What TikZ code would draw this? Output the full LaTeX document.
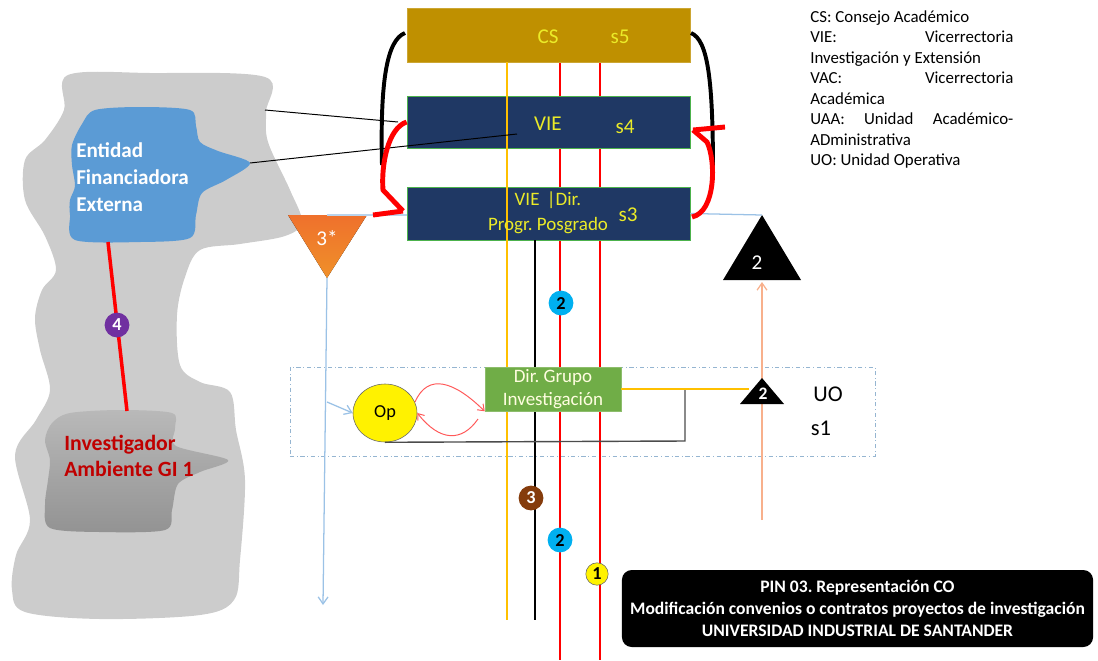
\documentclass[tikz,border=0pt]{standalone}
\usepackage{fontspec}
\setmainfont{Carlito}
\frenchspacing
\usetikzlibrary{shapes.geometric,arrows.meta}
\definecolor{oro}{RGB}{191,144,0}
\definecolor{navy}{RGB}{31,56,100}
\definecolor{amar}{RGB}{235,235,40}
\definecolor{ambar}{RGB}{255,192,0}
\definecolor{verde}{RGB}{112,173,71}
\definecolor{azulef}{RGB}{91,155,213}
\definecolor{celeste}{RGB}{0,176,240}
\definecolor{cafe}{RGB}{133,60,12}
\definecolor{morado}{RGB}{112,48,160}
\definecolor{naranja}{RGB}{237,125,49}
\definecolor{azulcl}{RGB}{155,194,230}
\definecolor{salmon}{RGB}{248,176,140}
\definecolor{rojo}{RGB}{255,0,0}
\definecolor{rojoi}{RGB}{192,0,0}
\definecolor{grisf}{RGB}{204,204,204}
\tikzset{
  nivel/.style={draw=green!40!gray, line width=0.5pt, fill=navy, minimum width=7.075cm, inner sep=0pt},
  rotulo/.style={text=amar, font=\fontsize{15}{17}\selectfont},
  ficha/.style={circle, minimum size=0.62cm, inner sep=0pt, font=\bfseries\fontsize{13}{14}\selectfont},
  via/.style={line width=2pt},
}
\begin{document}
\begin{tikzpicture}[x=0.025cm,y=-0.025cm]
\useasboundingbox (0,0) rectangle (1098,660);
% ambiente externo y entidad
\fill[grisf] plot[smooth cycle, tension=0.55] coordinates {(68,75) (150,73) (265,77) (266,112) (268,142) (290,190) (302,222) (285,236) (240,244) (200,250) (185,277) (177,315) (180,365) (200,382) (230,392) (236,430) (245,480) (240,560) (234,600) (200,615) (100,619) (25,612) (12,590) (16,555) (30,520) (15,455) (36,420) (50,390) (40,350) (35,318) (42,290) (56,270) (45,236) (25,200) (25,160) (45,140) (64,110)};
\fill[azulef] plot[smooth cycle, tension=0.5] coordinates {(95,110) (140,107) (190,110) (196,126) (200,142) (218,151) (250,163) (226,180) (202,193) (196,215) (190,238) (140,242) (75,240) (70,215) (70,200) (75,186) (72,165) (72,145) (82,124)};
\shade[top color=gray!55, bottom color=gray!85] plot[smooth cycle, tension=0.5] coordinates {(70,413) (120,410) (172,413) (175,428) (176,446) (228,460) (200,472) (178,484) (172,510) (165,530) (100,532) (50,528) (45,505) (48,480) (50,460) (45,440) (52,423)};
\coordinate (efb) at (108,242);
\coordinate (igt) at (127,411);
\coordinate (efd) at (250,163);
\coordinate (gr1) at (265,110);
\draw[rojo, line width=2.5pt] (efb) -- (igt);
\node[anchor=west, align=left, text=white, font=\bfseries\fontsize{15}{19.2}\selectfont, inner sep=0pt] (efe) at (76,177) {Entidad\\Financiadora\\Externa};
\node[anchor=west, align=left, text=rojoi, font=\bfseries\fontsize{15.5}{18.5}\selectfont, inner sep=0pt] (inv) at (64,456) {Investigador\\Ambiente GI 1};
\node[ficha, fill=morado, text=white] (n4) at (117,325) {4};

% franja UO
\node[draw=azulcl!80!gray, dash dot, line width=0.6pt, minimum width=14.625cm, minimum height=2.225cm] (uo) at (582.5,411.5) {};

% niveles
\coordinate (ya) at (507,62);  \coordinate (yb) at (507,620);
\coordinate (ra) at (560,62);  \coordinate (rb) at (560,660);
\coordinate (sa) at (600,62);  \coordinate (sb) at (600,660);
\coordinate (ka) at (535,240); \coordinate (kb) at (535,620);
\draw[rojo, via] (ra) -- (rb);
\draw[rojo, via] (sa) -- (sb);
\draw[black, line width=0.7pt] (gr1) -- (398,122);
\node[nivel, fill=oro, draw=oro!80!white, minimum height=1.35cm] (cs) at (548.5,35) {};
\node[nivel, minimum height=1.3cm] (vie) at (548.5,122) {};
\node[nivel, minimum height=1.325cm] (vied) at (548.5,213.5) {};
\draw[ambar, via] (ya) -- (yb);
\draw[black, line width=1.6pt] (ka) -- (kb);
\coordinate (viep) at (517,134);
\draw[black, line width=0.7pt] (efd) -- (viep);
\node[rotulo] (csl) at (548,37) {CS};
\node[rotulo] (s5) at (620,37) {s5};
\node[rotulo] (viel) at (548,124) {VIE};
\node[rotulo] (s4) at (625,127) {s4};
\node[rotulo, align=center, font=\fontsize{13.5}{17.8}\selectfont] (viedl) at (548,213) {VIE \,|Dir.\\Progr. Posgrado};
\node[rotulo] (s3) at (628,215) {s3};

% triangulos
\fill[top color=naranja!90!red, bottom color=naranja!85!yellow] (288,215) -- (367,215) -- (327,278) -- cycle;
\coordinate (t3) at (327,278);
\coordinate (t3a) at (327,215);
\draw[azulcl!70, line width=0.9pt] (t3a) -- (vied.west |- t3a);
\node[text=white, font=\fontsize{15}{17}\selectfont] (t3l) at (327,238) {3*};
\fill[black] (762,215) -- (801,280) -- (723,280) -- cycle;
\coordinate (t2) at (762,215);
\coordinate (t2b) at (762,282);
\node[text=white, font=\fontsize{15}{17}\selectfont] (t2l) at (757,263) {2};
\coordinate (fin3) at (323,605);
\coordinate (rama) at (327,402);
\coordinate (sal) at (762,520);
\draw[azulcl, line width=0.9pt] (vied.east) -- (t2);
\draw[azulcl, line width=0.9pt, -{Straight Barb[length=5pt,width=7pt]}] (t3) -- (fin3);
\draw[salmon, line width=0.9pt, -{Straight Barb[length=5pt,width=7pt]}] (sal) -- (t2b);

% llaves entre niveles
\draw[black, line width=2.8pt] (405,33) .. controls (387,40) and (380,80) .. (382,165);
\draw[black, line width=2.8pt] (691,33) .. controls (708,40) and (713,80) .. (713,173);
\draw[rojo, line width=3.5pt, line join=miter] (vie.west) .. controls (388,128) and (381,165) .. (383,190) -- (403,211);
\draw[rojo, line width=3.5pt] (373,215) -- (403,211);
\draw[rojo, line width=3.5pt, line join=miter] (692,217) .. controls (716,212) and (716,160) .. (707,142) -- (693,130);
\draw[rojo, line width=3.5pt] (693,130) -- (725,127);

% unidad operativa
\node[draw=gray!80!black, fill=yellow, ellipse, minimum width=1.6cm, minimum height=1.45cm, inner sep=0pt, font=\fontsize{13}{15}\selectfont] (op) at (385,413) {Op};
\draw[azulcl, line width=0.9pt, -{Straight Barb[length=5pt,width=7pt]}] (rama) -- (op.west);
\node[fill=verde, draw=verde!80!white, minimum width=3.4cm, minimum height=1.1cm, align=center, text=white!88!yellow, font=\fontsize{13.5}{16.5}\selectfont, inner sep=0pt] (grupo) at (553,389) {Dir. Grupo\\Investigación};
\coordinate (vuelta) at (478,419);
\coordinate (esq) at (685,441);
\coordinate (une) at (685,389);
\coordinate (t1) at (749,389);
\draw[rojo!65, line width=0.7pt, -{Straight Barb[length=4pt,width=6pt]}] (op.20) .. controls (428,372) and (455,382) .. (grupo.south west);
\draw[rojo!65, line width=0.7pt, -{Straight Barb[length=4pt,width=6pt]}] (vuelta) .. controls (462,442) and (440,442) .. (op.east);
\draw[gray!60!black, line width=1pt] (op.south) -- (esq) -- (une);
\draw[ambar, line width=1.2pt] (grupo.east) -- (t1);
\fill[black] (762,378) -- (784,404) -- (740,404) -- cycle;
\node[text=white, font=\bfseries\fontsize{12.5}{13}\selectfont] (t1l) at (763,394) {2};
\node[font=\fontsize{16}{18}\selectfont] (uol) at (828,394) {UO};
\node[font=\fontsize{16}{18}\selectfont] (s1) at (821,428) {s1};

% fichas de flujo
\node[ficha, fill=celeste] (n2a) at (561,303) {2};
\node[ficha, fill=cafe, text=white] (n3) at (531,498) {3};
\node[ficha, fill=celeste] (n2b) at (560,540) {2};
\node[ficha, fill=yellow, draw=black!60, line width=0.4pt, minimum size=0.56cm] (n1) at (597,574) {1};

% leyenda y titulo
\node[anchor=north west, text width=5.075cm, align=flush left, inner sep=0pt, font=\fontsize{12}{14.6}\selectfont] (leyenda) at (810,10) {CS: Consejo Académico\\VIE:\hfill Vicerrectoria\\Investigación y Extensión\\VAC:\hfill Vicerrectoria\\Académica\\UAA:\hfill Unidad\hfill Académico-\\ADministrativa\\UO: Unidad Operativa};
\node[fill=black, rounded corners=7pt, minimum width=11.775cm, minimum height=1.925cm, align=center, text=white, font=\bfseries\fontsize{12.5}{15.6}\selectfont] (titulo) at (857.5,608.5) {PIN 03. Representación CO\\Modificación convenios o contratos proyectos de investigación\\UNIVERSIDAD INDUSTRIAL DE SANTANDER};
\end{tikzpicture}
\end{document}
